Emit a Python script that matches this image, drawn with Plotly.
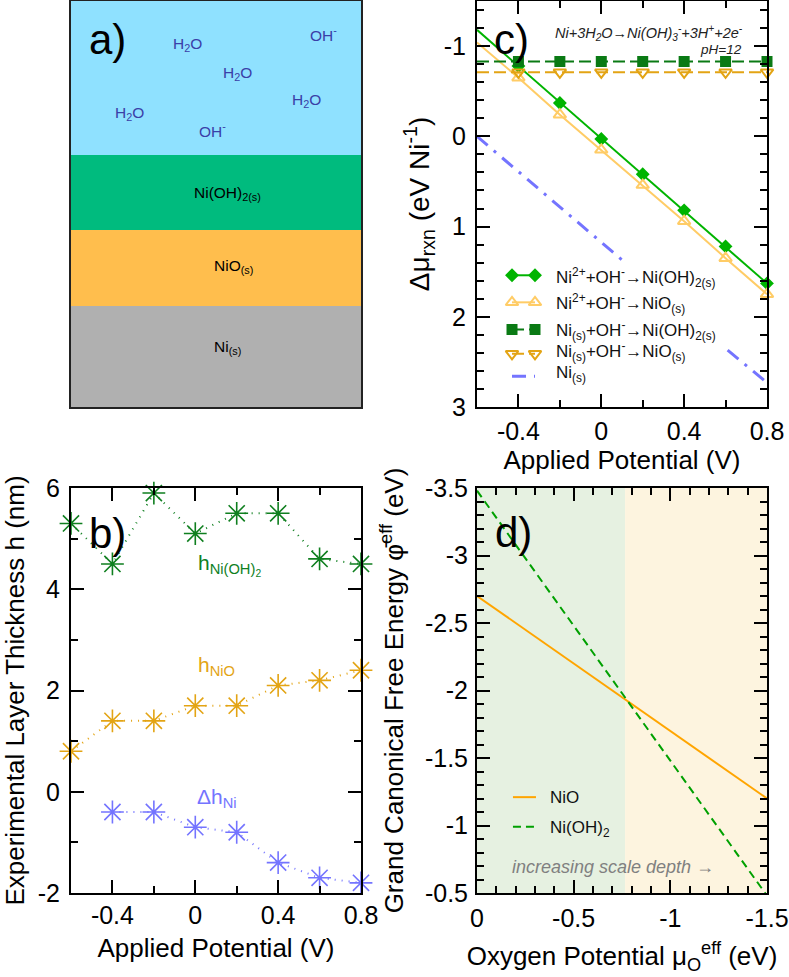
import plotly.graph_objects as go

W, H = 789, 977
FONT = "Liberation Sans"

# panel a layer heights, bottom to top
layer_names = ["Ni", "NiO", "Ni(OH)2", "solution"]
layer_heights = [101, 76, 75, 154]
layer_colors = ["#B0B0B0", "#FFBE4D", "#00BB7E", "#8FE1FF"]

# panel b
pot_b = [-0.6, -0.4, -0.2, 0, 0.2, 0.4, 0.6, 0.8]
h_nioh2 = [5.3, 4.5, 5.9, 5.1, 5.5, 5.5, 4.6, 4.5]
h_nio = [0.8, 1.4, 1.4, 1.7, 1.7, 2.1, 2.2, 2.4]
dh_ni = [None, -0.4, -0.4, -0.7, -0.8, -1.4, -1.7, -1.8]

# panel c
pot_c = [-0.6, -0.4, -0.2, 0, 0.2, 0.4, 0.6, 0.8]
ni2_nioh2 = [-1.18, -0.78, -0.37, 0.03, 0.42, 0.82, 1.22, 1.63]
ni2_nio = [-1.04, -0.65, -0.24, 0.15, 0.54, 0.94, 1.35, 1.75]
nis_nioh2 = [-0.83, -0.83, -0.83, -0.83, -0.83, -0.83, -0.83, -0.83]
nis_nio = [-0.71, -0.71, -0.71, -0.71, -0.71, -0.71, -0.71, -0.71]
pot_ni = [-0.6, 0.1, None, 0.61, 0.8]
ni_only = [0, 1.37, None, 2.37, 2.73]

# panel d
mu_o = [0, -1.5]
phi_nio = [-2.7, -1.2]
phi_nioh2 = [-3.48, -0.48]
mu_boundary = -0.766

# tick labels
pot_major = [-0.4, 0, 0.4, 0.8]
pot_labels = ["-0.4", "0", "0.4", "0.8"]
pot_minor = [-0.6, -0.4, -0.2, 0, 0.2, 0.4, 0.6, 0.8]
h_major = [-2, 0, 2, 4, 6]
h_labels = ["-2", "0", "2", "4", "6"]
h_minor = [-1, 1, 3, 5]
rxn_major = [-1, 0, 1, 2, 3]
rxn_labels = ["-1", "0", "1", "2", "3"]
rxn_minor = [-1.4, -1.2, -0.8, -0.6, -0.4, -0.2, 0.2, 0.4, 0.6, 0.8, 1.2, 1.4, 1.6, 1.8,
             2.2, 2.4, 2.6, 2.8]
mu_major = [0, -0.5, -1, -1.5]
mu_labels = ["0", "-0.5", "-1", "-1.5"]
mu_minor = [-0.1, -0.2, -0.3, -0.4, -0.6, -0.7, -0.8, -0.9, -1.1, -1.2, -1.3, -1.4]
phi_major = [-3.5, -3, -2.5, -2, -1.5, -1, -0.5]
phi_labels = ["-3.5", "-3", "-2.5", "-2", "-1.5", "-1", "-0.5"]
phi_minor = [-3.4, -3.3, -3.2, -3.1, -2.9, -2.8, -2.7, -2.6, -2.4, -2.3, -2.2, -2.1,
             -1.9, -1.8, -1.7, -1.6, -1.4, -1.3, -1.2, -1.1, -0.9, -0.8, -0.7, -0.6]

# legend key ends, in axis units
key_c_x = [-0.431, -0.32]
key_c_y = [1.54, 1.84, 2.14, 2.41, 2.66]
key_d_x = [-0.186, -0.305]
key_d_y = [-1.21, -0.99]

GREEN = "#00B400"
LIGHT_ORANGE = "#FFCC66"
DARK_GREEN = "#0A7A14"
GOLD = "#E3A414"
BLUE = "#7474FF"


def dom_x(a, b):
    return [a / W, b / W]


def dom_y(top, bottom):
    return [1 - bottom / H, 1 - top / H]


def axis(domain, rng, major, labels, minor, title, anchor, standoff, label_off, size=25, title_size=26):
    return dict(
        domain=domain, range=rng, anchor=anchor,
        tickmode="array", tickvals=major, ticktext=labels,
        ticks="inside", ticklen=13, tickwidth=2, tickcolor="black",
        minor=dict(tickmode="array", tickvals=minor, ticks="inside", ticklen=7, tickwidth=2, tickcolor="black"),
        showline=True, linecolor="black", linewidth=2, mirror="allticks",
        showgrid=False, zeroline=False, layer="above traces",
        ticklabelstandoff=label_off,
        tickfont=dict(size=size, color="black"),
        title=dict(text=title, font=dict(size=title_size, color="black"), standoff=standoff),
    )


fig = go.Figure()

# panel a, stacked layers
for name, val, col in zip(layer_names, layer_heights, layer_colors):
    fig.add_trace(go.Bar(x=["stack"], y=[val], name=name, marker=dict(color=col, line=dict(width=0)),
                         xaxis="x4", yaxis="y4", showlegend=False))

# panel b
for ys, col in [(h_nioh2, "#0F7F1F"), (h_nio, GOLD), (dh_ni, BLUE)]:
    fig.add_trace(go.Scatter(
        x=pot_b, y=ys, mode="lines+markers", xaxis="x", yaxis="y", cliponaxis=False, showlegend=False,
        line=dict(color=col, width=2, dash="1px,6px"),
        marker=dict(symbol="asterisk-open", size=19, line=dict(color=col, width=1.6)),
    ))

# panel c
series_c = [
    (ni2_nioh2, GREEN, "solid", "diamond", 8.5),
    (ni2_nio, LIGHT_ORANGE, "solid", "triangle-up-open", 11),
    (nis_nioh2, DARK_GREEN, "12px,5px", "square", 9),
    (nis_nio, GOLD, "12px,5px", "triangle-down-open", 11),
]
for ys, col, dash, sym, size in series_c:
    fig.add_trace(go.Scatter(x=pot_c, y=ys, mode="lines", xaxis="x2", yaxis="y2", showlegend=False,
                             line=dict(color=col, width=2, dash=dash)))
    fig.add_trace(go.Scatter(x=pot_c[1:], y=ys[1:], mode="markers", xaxis="x2", yaxis="y2", cliponaxis=False,
                             showlegend=False,
                             marker=dict(symbol=sym, size=size, color=col, line=dict(color=col, width=2))))
fig.add_trace(go.Scatter(x=pot_ni, y=ni_only, mode="lines", xaxis="x2", yaxis="y2", showlegend=False,
                         line=dict(color=BLUE, width=3, dash="14px,8px,3px,8px")))

# panel c legend keys
for (ys, col, dash, sym, size), ky in zip(series_c, key_c_y):
    fig.add_trace(go.Scatter(x=key_c_x, y=[ky, ky], mode="lines+markers", xaxis="x2", yaxis="y2", showlegend=False,
                             line=dict(color=col, width=2, dash=dash),
                             marker=dict(symbol=sym, size=size, color=col, line=dict(color=col, width=2))))
fig.add_trace(go.Scatter(x=key_c_x, y=[key_c_y[4], key_c_y[4]], mode="lines", xaxis="x2", yaxis="y2", showlegend=False,
                         line=dict(color=BLUE, width=3, dash="14px,8px,3px,8px")))

# panel d
fig.add_trace(go.Scatter(x=mu_o, y=phi_nio, mode="lines", xaxis="x3", yaxis="y3", showlegend=False,
                         line=dict(color="#FFA500", width=2)))
fig.add_trace(go.Scatter(x=mu_o, y=phi_nioh2, mode="lines", xaxis="x3", yaxis="y3", showlegend=False,
                         line=dict(color="#00A000", width=2, dash="8px,5px")))
fig.add_trace(go.Scatter(x=key_d_x, y=[key_d_y[0], key_d_y[0]], mode="lines", xaxis="x3", yaxis="y3", showlegend=False,
                         line=dict(color="#FFA500", width=2)))
fig.add_trace(go.Scatter(x=key_d_x, y=[key_d_y[1], key_d_y[1]], mode="lines", xaxis="x3", yaxis="y3", showlegend=False,
                         line=dict(color="#00A000", width=2, dash="8px,5px")))


def note(text, px, py, size=15, color="black", anchor="center", **kw):
    return dict(text=text, x=px / W, y=1 - py / H, xref="paper", yref="paper", showarrow=False,
                xanchor=anchor, yanchor="middle", font=dict(size=size, color=color), **kw)


ION = "#3A3FA8"
annotations = [
    note("a)", 107, 39, 42), note("b)", 107, 533, 42), note("c)", 511, 39, 42), note("d)", 513, 532, 42),
    note("H<sub>2</sub>O", 187, 44, 15.5, ION), note("H<sub>2</sub>O", 237, 74, 15.5, ION),
    note("H<sub>2</sub>O", 306, 100, 15.5, ION), note("H<sub>2</sub>O", 129, 114, 15.5, ION),
    note("OH<sup>-</sup>", 323, 34, 15.5, ION), note("OH<sup>-</sup>", 213, 130, 15.5, ION),
    note("Ni(OH)<sub>2(s)</sub>", 228, 193, 15.5), note("NiO<sub>(s)</sub>", 233, 266, 15.5),
    note("Ni<sub>(s)</sub>", 228, 347, 15.5),
    note("h<sub>Ni(OH)<sub>2</sub></sub>", 196, 565, 21, "#0F7F1F", "left"),
    note("h<sub>NiO</sub>", 196, 666, 21, GOLD, "left"),
    note("Δh<sub>Ni</sub>", 195, 798, 21, BLUE, "left"),
    note("<i>Ni+3H<sub>2</sub>O→Ni(OH)<sub>3</sub><sup>-</sup>+3H<sup>+</sup>+2e<sup>-</sup></i>", 553, 33, 14.5, "#222222", "left"),
    note("<i>pH=12</i>", 698, 49, 13.5, "#222222", "left"),
    note("Ni<sup>2+</sup>+OH<sup>-</sup>→Ni(OH)<sub>2(s)</sub>", 554, 277, 17, "#111111", "left"),
    note("Ni<sup>2+</sup>+OH<sup>-</sup>→NiO<sub>(s)</sub>", 554, 303, 17, "#111111", "left"),
    note("Ni<sub>(s)</sub>+OH<sup>-</sup>→Ni(OH)<sub>2(s)</sub>", 554, 330, 17, "#111111", "left"),
    note("Ni<sub>(s)</sub>+OH<sup>-</sup>→NiO<sub>(s)</sub>", 554, 351, 17, "#111111", "left"),
    note("Ni<sub>(s)</sub>", 554, 374, 17, "#111111", "left"),
    note("NiO", 548, 797, 17, "#111111", "left"),
    note("Ni(OH)<sub>2</sub>", 548, 829, 17, "#111111", "left"),
    note("<i>increasing scale depth →</i>", 510, 867, 18, "#808080", "left"),
]

shapes = [
    dict(type="rect", xref="x3", yref="y3 domain", x0=0, x1=mu_boundary, y0=0, y1=1,
         fillcolor="#E6F1E1", line_width=0, layer="below"),
    dict(type="rect", xref="x3", yref="y3 domain", x0=mu_boundary, x1=-1.5, y0=0, y1=1,
         fillcolor="#FDF4DF", line_width=0, layer="below"),
]

fig.update_layout(
    width=W, height=H, margin=dict(l=0, r=0, t=0, b=0, autoexpand=False),
    paper_bgcolor="white", plot_bgcolor="white",
    font=dict(family=FONT, color="black"),
    barmode="stack", bargap=0,
    showlegend=False,
    annotations=annotations, shapes=shapes,
    # b
    xaxis=axis(dom_x(71, 361), [-0.6, 0.8], pot_major, pot_labels, pot_minor, "Applied Potential (V)", "y", 11, -1),
    yaxis=axis(dom_y(488, 893), [-2, 6], h_major, h_labels, h_minor,
               "Experimental Layer Thickness h (nm)", "x", 9, 4),
    # c
    xaxis2=axis(dom_x(477, 767), [-0.6, 0.8], pot_major, pot_labels, pot_minor, "Applied Potential (V)", "y2", 6, 1),
    yaxis2=axis(dom_y(1, 407), [3, -1.5], rxn_major, rxn_labels, rxn_minor,
                "Δμ<sub>rxn</sub> (eV Ni<sup>-1</sup>)", "x2", 6, 4, title_size=28),
    # d
    xaxis3=axis(dom_x(477, 767), [0, -1.5], mu_major, mu_labels, mu_minor,
                "Oxygen Potential μ<sub>O</sub><sup>eff</sup> (eV)", "y3", 16, 2),
    yaxis3=axis(dom_y(488, 893), [-0.5, -3.5], phi_major, phi_labels, phi_minor,
                "Grand Canonical Free Energy φ\u0304<sup>eff</sup> (eV)", "x3", 14, 2),
    # a
    xaxis4=dict(domain=dom_x(71, 361), anchor="y4", showticklabels=False, ticks="", showgrid=False, zeroline=False,
                showline=True, mirror=True, linecolor="#222222", linewidth=2),
    yaxis4=dict(domain=dom_y(1, 407), anchor="x4", range=[0, sum(layer_heights)], showticklabels=False, ticks="",
                showgrid=False, zeroline=False, showline=True, mirror=True, linecolor="#222222", linewidth=2),
)

# the browser's default body margin would shift the whole figure by 8px
fig.write_html("out.html", config={"displayModeBar": False}, post_script="document.body.style.margin='0';")
